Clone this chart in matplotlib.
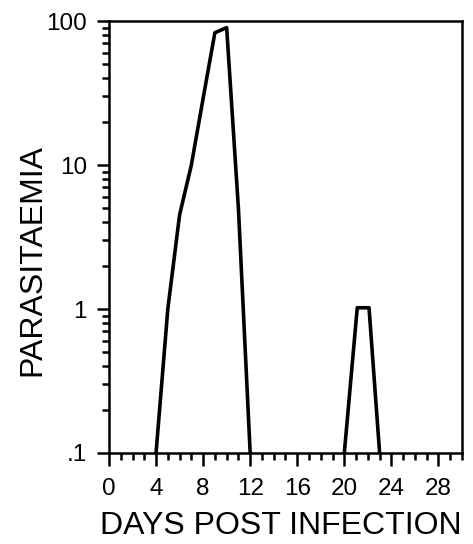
import matplotlib
matplotlib.use("Agg")
import matplotlib.pyplot as plt
from matplotlib.ticker import FixedLocator, FixedFormatter, LogLocator, NullFormatter, MultipleLocator

plt.rcParams['font.family'] = ['Liberation Sans', 'DejaVu Sans']

days = [4, 5, 6, 7, 8, 9, 10, 11, 12]
parasitaemia = [0.1, 1.0, 4.5, 10.0, 29.0, 83.0, 90.0, 5.0, 0.1]
days2 = [20, 21.1, 22.1, 23]
parasitaemia2 = [0.1, 1.02, 1.02, 0.1]

x_ticks = [0, 4, 8, 12, 16, 20, 24, 28]
x_ticklabels = ['0', '4', '8', '12', '16', '20', '24', '28']
y_ticks = [0.1, 1, 10, 100]
y_ticklabels = ['.1', '1', '10', '100']

fig = plt.figure(figsize=(4.73, 5.44), dpi=100)
ax = fig.add_axes([0.2304, 0.1673, 0.7463, 0.794])

ax.plot(days, parasitaemia, color='black', lw=2.6, solid_joinstyle='round')
ax.plot(days2, parasitaemia2, color='black', lw=2.6, solid_joinstyle='round')

ax.set_yscale('log')
ax.set_xlim(0, 30)
ax.set_ylim(0.1, 100)

ax.xaxis.set_major_locator(FixedLocator(x_ticks))
ax.xaxis.set_major_formatter(FixedFormatter(x_ticklabels))
ax.xaxis.set_minor_locator(MultipleLocator(1))
ax.yaxis.set_major_locator(FixedLocator(y_ticks))
ax.yaxis.set_major_formatter(FixedFormatter(y_ticklabels))
ax.yaxis.set_minor_locator(LogLocator(base=10, subs=range(2, 10)))
ax.yaxis.set_minor_formatter(NullFormatter())

for s in ax.spines.values():
    s.set_linewidth(1.8)

ax.tick_params(axis='both', which='major', direction='out', length=9, width=1.8,
               labelsize=17.5, pad=7)
ax.tick_params(axis='both', which='minor', direction='out', length=5, width=1.8)
ax.tick_params(axis='x', which='major', pad=9)

ax.set_xlabel('DAYS POST INFECTION', fontsize=23)
ax.set_ylabel('PARASITAEMIA', fontsize=23)
ax.xaxis.set_label_coords(0.487, -0.135)
ax.yaxis.set_label_coords(-0.175, 0.447)

fig.savefig('out.png', dpi=100)
